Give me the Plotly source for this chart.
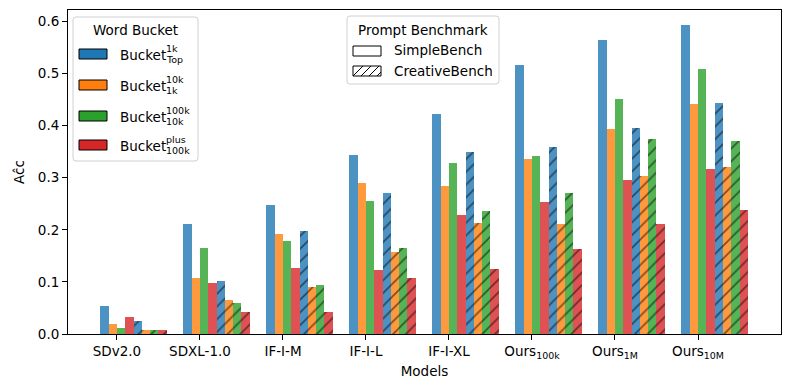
import plotly.graph_objects as go

models = ["SDv2.0", "SDXL-1.0", "IF-I-M", "IF-I-L", "IF-I-XL",
          "Ours<sub>100k</sub>", "Ours<sub>1M</sub>", "Ours<sub>10M</sub>"]

simple_top1k = [0.054, 0.211, 0.247, 0.344, 0.422, 0.516, 0.564, 0.593]
simple_1k10k = [0.019, 0.107, 0.192, 0.290, 0.284, 0.336, 0.393, 0.441]
simple_10k100k = [0.012, 0.165, 0.178, 0.255, 0.328, 0.342, 0.451, 0.509]
simple_100kplus = [0.033, 0.098, 0.127, 0.123, 0.228, 0.253, 0.296, 0.317]
creative_top1k = [0.025, 0.102, 0.198, 0.271, 0.349, 0.359, 0.395, 0.443]
creative_1k10k = [0.008, 0.065, 0.090, 0.157, 0.213, 0.211, 0.303, 0.321]
creative_10k100k = [0.008, 0.059, 0.094, 0.165, 0.236, 0.271, 0.374, 0.370]
creative_100kplus = [0.008, 0.042, 0.042, 0.107, 0.125, 0.163, 0.211, 0.238]

bucket_sup = ["1k", "10k", "100k", "plus"]
bucket_sub = ["Top", "1k", "10k", "100k"]
bench_names = ["SimpleBench", "CreativeBench"]

colors = ["rgba(31,119,180,0.8)", "rgba(255,127,14,0.8)",
          "rgba(44,160,44,0.8)", "rgba(214,39,40,0.8)"]
solid_colors = ["#1f77b4", "#ff7f0e", "#2ca02c", "#d62728"]

series = [simple_top1k, simple_1k10k, simple_10k100k, simple_100kplus,
          creative_top1k, creative_1k10k, creative_10k100k, creative_100kplus]

FONT = "DejaVu Sans"
W, H = 790, 390
L, R, T, B = 68, 9, 10, 56
PW, PH = W - L - R, H - T - B

xs = list(range(len(models)))
fig = go.Figure()
bw = 0.1
for j, vals in enumerate(series):
    c = colors[j % 4]
    hatched = j >= 4
    marker = dict(color=c, line=dict(width=0))
    if hatched:
        marker["pattern"] = dict(shape="/", fgcolor="black", bgcolor=c,
                                 fillmode="overlay", size=9, solidity=0.18)
    fig.add_trace(go.Bar(x=xs, y=vals, width=bw, offset=-0.2 + j * bw,
                         marker=marker, showlegend=False, hoverinfo="y"))


def px(x):
    return (x - L) / PW


def py(y):
    return (T + PH - y) / PH


shapes = []
annots = []


def rounded_box(x0, y0, x1, y1, r=3):
    X0, X1 = px(x0), px(x1)
    Y0, Y1 = py(y0), py(y1)
    rx, ry = r / PW, r / PH
    path = (f"M {X0+rx},{Y0} L {X1-rx},{Y0} Q {X1},{Y0} {X1},{Y0-ry} "
            f"L {X1},{Y1+ry} Q {X1},{Y1} {X1-rx},{Y1} L {X0+rx},{Y1} "
            f"Q {X0},{Y1} {X0},{Y1+ry} L {X0},{Y0-ry} Q {X0},{Y0} {X0+rx},{Y0} Z")
    shapes.append(dict(type="path", path=path, xref="paper", yref="paper",
                       line=dict(color="#d0d0d0", width=1),
                       fillcolor="rgba(255,255,255,0.8)", layer="above"))


def rect(x0, y0, x1, y1, fill, lw=1):
    shapes.append(dict(type="rect", xref="paper", yref="paper",
                       x0=px(x0), x1=px(x1), y0=py(y1), y1=py(y0),
                       fillcolor=fill, line=dict(color="black", width=lw),
                       layer="above"))


def line(x0, y0, x1, y1, w=1):
    shapes.append(dict(type="line", xref="paper", yref="paper",
                       x0=px(x0), x1=px(x1), y0=py(y0), y1=py(y1),
                       line=dict(color="black", width=w), layer="above"))


def text(x, y, s, size=13.5, anchor="left"):
    annots.append(dict(x=px(x), y=py(y), xref="paper", yref="paper", text=s,
                       showarrow=False, xanchor=anchor, yanchor="middle",
                       font=dict(family=FONT, size=size, color="black")))


# Legend 1: Word Bucket
rounded_box(73, 17, 198, 161)
text(135.5, 30, "Word Bucket", anchor="center")
ycent = [54, 85, 116, 145]
for k in range(4):
    yc = ycent[k]
    rect(79, yc - 5, 107, yc + 5, solid_colors[k])
    text(118, yc + 1, "Bucket")
    text(164, yc - 5.5, bucket_sup[k], size=9.5)
    text(164, yc + 5.5, bucket_sub[k], size=9.5)

# Legend 2: Prompt Benchmark
rounded_box(347, 16, 499, 84)
text(423, 30, "Prompt Benchmark", anchor="center")
rect(353, 46, 381, 56, "white")
text(392, 50, bench_names[0])
rect(353, 66, 381, 76, "white")
for s in [353, 361, 369]:
    line(s, 76, s + 10, 66)
line(377, 76, 381, 72)
text(392, 71, bench_names[1])

axis_common = dict(showline=True, linecolor="black", linewidth=1, mirror=True,
                   ticks="outside", ticklen=5, tickcolor="black",
                   showgrid=False, zeroline=False, automargin=False,
                   tickfont=dict(family=FONT, size=13.5, color="black"))

fig.update_layout(
    width=W, height=H,
    margin=dict(l=L, r=R, t=T, b=B),
    plot_bgcolor="white", paper_bgcolor="white",
    barmode="overlay", bargap=0,
    font=dict(family=FONT, size=13.5, color="black"),
    xaxis=dict(range=[-0.59, 8.0], tickvals=xs, ticktext=models,
               title=dict(text="Models", font=dict(family=FONT, size=13.5),
                          standoff=6),
               **axis_common),
    yaxis=dict(range=[0, 0.622], tickvals=[0, 0.1, 0.2, 0.3, 0.4, 0.5, 0.6],
               tickformat=".1f",
               title=dict(text="Ac\u0302c", font=dict(family=FONT, size=13.5),
                          standoff=10),
               **axis_common),
    shapes=shapes, annotations=annots,
)

fig.write_html("out.html", config={"displayModeBar": False},
               post_script="document.body.style.margin='0';"
                           "document.body.style.padding='0';")
